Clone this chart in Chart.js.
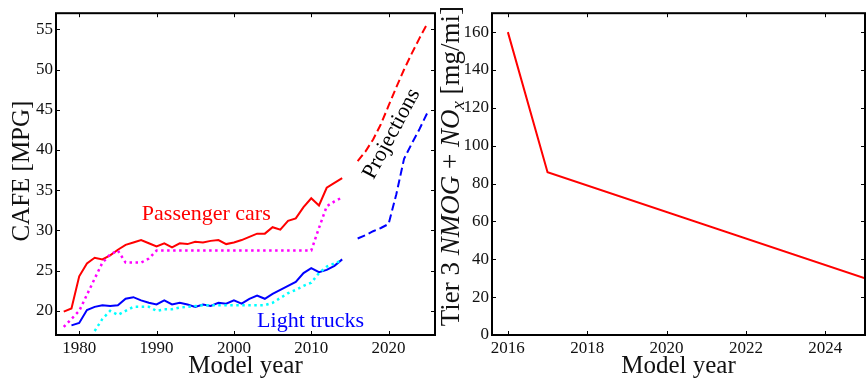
<!DOCTYPE html>
<html>
<head>
<meta charset="utf-8">
<script src="https://cdn.jsdelivr.net/npm/chart.js@4"></script>
<style>
  html, body { margin: 0; padding: 0; background: #fff; }
  #wrap { position: relative; width: 866px; height: 383px; }
  canvas { position: absolute; top: 0; }
  #left { left: 0; }
  #right { left: 440px; }
</style>
</head>
<body>
<div id="wrap">
  <canvas id="left" width="440" height="383"></canvas>
  <canvas id="right" width="426" height="383"></canvas>
</div>
<script>
// ── Data ──────────────────────────────────────────────────────────────
const carYears = [1978, 1979, 1980, 1981, 1982, 1983, 1984, 1985, 1986, 1987, 1988, 1989,
  1990, 1991, 1992, 1993, 1994, 1995, 1996, 1997, 1998, 1999, 2000, 2001, 2002, 2003,
  2004, 2005, 2006, 2007, 2008, 2009, 2010, 2011, 2012, 2013, 2014];
const carMpg = [19.9, 20.3, 24.3, 25.9, 26.6, 26.4, 26.9, 27.6, 28.2, 28.5, 28.8, 28.4,
  28.0, 28.4, 27.9, 28.4, 28.3, 28.6, 28.5, 28.7, 28.8, 28.3, 28.5, 28.8, 29.2, 29.6,
  29.6, 30.4, 30.1, 31.2, 31.5, 32.9, 34.0, 33.1, 35.3, 35.9, 36.5];
const carStd = [18.0, 19.0, 20.0, 22.0, 24.0, 26.0, 27.0, 27.5, 26.0, 26.0, 26.0, 26.5,
  27.5, 27.5, 27.5, 27.5, 27.5, 27.5, 27.5, 27.5, 27.5, 27.5, 27.5, 27.5, 27.5, 27.5,
  27.5, 27.5, 27.5, 27.5, 27.5, 27.5, 27.5, 30.3, 33.0, 33.6, 34.1];

const truckYears = [1979, 1980, 1981, 1982, 1983, 1984, 1985, 1986, 1987, 1988, 1989,
  1990, 1991, 1992, 1993, 1994, 1995, 1996, 1997, 1998, 1999, 2000, 2001, 2002, 2003,
  2004, 2005, 2006, 2007, 2008, 2009, 2010, 2011, 2012, 2013, 2014];
const truckMpg = [18.2, 18.5, 20.1, 20.5, 20.7, 20.6, 20.7, 21.5, 21.7, 21.3, 21.0,
  20.8, 21.3, 20.8, 21.0, 20.8, 20.5, 20.8, 20.6, 21.0, 20.9, 21.3, 20.9, 21.5, 21.9,
  21.5, 22.1, 22.6, 23.1, 23.6, 24.7, 25.3, 24.8, 25.1, 25.6, 26.4];

const truckStdYears = [1982, 1983, 1984, 1985, 1986, 1987, 1988, 1989, 1990, 1991, 1992,
  1993, 1994, 1995, 1996, 1997, 1998, 1999, 2000, 2001, 2002, 2003, 2004, 2005, 2006,
  2007, 2008, 2009, 2010, 2011, 2012, 2013, 2014];
const truckStd = [17.5, 19.0, 20.0, 19.5, 20.0, 20.5, 20.5, 20.5, 20.0, 20.2, 20.2,
  20.4, 20.5, 20.6, 20.7, 20.7, 20.7, 20.7, 20.7, 20.7, 20.7, 20.7, 20.7, 21.0, 21.6,
  22.2, 22.6, 23.1, 23.5, 24.7, 25.5, 25.9, 26.3];

const projYears = [2016, 2017, 2018, 2019, 2020, 2021, 2022, 2023, 2024, 2025];
const carProj = [38.6, 39.8, 41.3, 43.2, 45.5, 47.8, 50.0, 52.0, 53.9, 55.7];
const truckProj = [29.0, 29.4, 29.9, 30.3, 30.8, 34.5, 38.9, 40.8, 42.6, 44.6];

const tierYears = [2016, 2017, 2025];
const tierVals = [160, 86, 30];

const cafeXTicks = [1980, 1990, 2000, 2010, 2020];
const cafeYTicks = [20, 25, 30, 35, 40, 45, 50, 55];
const tierXTicks = [2016, 2018, 2020, 2022, 2024];
const tierYTicks = [0, 20, 40, 60, 80, 100, 120, 140, 160];

// ── Helpers ───────────────────────────────────────────────────────────
const SERIF = '"Liberation Serif", "Times New Roman", serif';
const TICK = 4;
Chart.defaults.font.family = SERIF;
const pts = (xs, ys) => xs.map((x, i) => ({ x, y: ys[i] }));

const line = (data, color, extra = {}) => Object.assign({
  data, borderColor: color, borderWidth: 2, pointRadius: 0, tension: 0, fill: false
}, extra);

const setTicks = list => scale => { scale.ticks = list.map(v => ({ value: v })); };

function axis(min, max, tickList, size, titleText) {
  return {
    type: 'linear', min, max,
    afterBuildTicks: setTicks(tickList),
    afterFit: s => { if (s.isHorizontal()) s.height = size; else s.width = size; },
    grid: { display: false, drawTicks: false },
    border: { display: false },
    ticks: {
      autoSkip: false, maxRotation: 0, padding: 3, color: '#111',
      font: { family: SERIF, size: 17 },
      callback: v => String(v)
    },
    title: {
      display: !!titleText, text: titleText, color: '#111', padding: { top: 0, bottom: 2 },
      font: { family: SERIF, size: 25 }
    }
  };
}

// box + inward ticks on all four sides
const framePlugin = {
  id: 'frame',
  afterDraw(chart) {
    const { ctx, chartArea: a, scales: { x, y } } = chart;
    ctx.save();
    ctx.strokeStyle = '#000';
    ctx.lineWidth = 1;
    ctx.beginPath();
    x.ticks.forEach(t => {
      const px = Math.round(x.getPixelForValue(t.value)) + 0.5;
      ctx.moveTo(px, a.bottom); ctx.lineTo(px, a.bottom - TICK);
      ctx.moveTo(px, a.top); ctx.lineTo(px, a.top + TICK);
    });
    y.ticks.forEach(t => {
      const py = Math.round(y.getPixelForValue(t.value)) + 0.5;
      ctx.moveTo(a.left, py); ctx.lineTo(a.left + TICK, py);
      ctx.moveTo(a.right, py); ctx.lineTo(a.right - TICK, py);
    });
    ctx.stroke();
    ctx.lineWidth = 2;
    ctx.strokeRect(a.left, a.top, a.right - a.left, a.bottom - a.top);
    ctx.restore();
  }
};

const notes = [
  { text: 'Passenger cars', x: 1988.1, y: 31.3, color: '#ff0000', rot: 0, align: 'left' },
  { text: 'Light trucks', x: 2003.0, y: 18.0, color: '#0000ff', rot: 0, align: 'left' },
  { text: 'Projections', x: 2020.4, y: 42.0, color: '#000000', rot: -62, align: 'center' }
];

const notesPlugin = {
  id: 'notes',
  afterDatasetsDraw(chart) {
    const { ctx, scales: { x, y } } = chart;
    ctx.save();
    ctx.font = `22px ${SERIF}`;
    notes.forEach(n => {
      ctx.save();
      ctx.translate(x.getPixelForValue(n.x), y.getPixelForValue(n.y));
      ctx.rotate(n.rot * Math.PI / 180);
      ctx.fillStyle = n.color;
      ctx.textAlign = n.align;
      ctx.textBaseline = n.align === 'center' ? 'middle' : 'alphabetic';
      ctx.fillText(n.text, 0, 0);
      ctx.restore();
    });
    ctx.restore();
  }
};

// rotated y titles made of roman / italic runs
const cafeTitle = [{ t: 'CAFE [MPG]', it: false }];
const tierTitle = [
  { t: 'Tier 3 ', it: false },
  { t: 'NMOG', it: true },
  { t: ' + ', it: false },
  { t: 'NO', it: true },
  { t: 'x', it: true, sub: true },
  { t: ' [mg/mi]', it: false }
];

const yTitlePlugin = (runs, size, dx, dy) => ({
  id: 'yTitle',
  afterDraw(chart) {
    const { ctx, chartArea: a } = chart;
    const fontOf = r => `${r.it ? 'italic ' : ''}${r.sub ? Math.round(size * 0.7) : size}px ${SERIF}`;
    ctx.save();
    let total = 0;
    const widths = runs.map(r => { ctx.font = fontOf(r); const w = ctx.measureText(r.t).width; total += w; return w; });
    ctx.translate(a.left - dx, (a.top + a.bottom) / 2 + dy);
    ctx.rotate(-Math.PI / 2);
    ctx.fillStyle = '#111';
    ctx.textBaseline = 'alphabetic';
    let cx = -total / 2;
    runs.forEach((r, i) => {
      ctx.font = fontOf(r);
      ctx.fillText(r.t, cx, r.sub ? 5 : 0);
      cx += widths[i];
    });
    ctx.restore();
  }
});

const common = {
  responsive: false,
  animation: false,
  devicePixelRatio: 1,
  plugins: { legend: { display: false }, tooltip: { enabled: false } }
};

// ── CAFE panel ────────────────────────────────────────────────────────
new Chart(document.getElementById('left'), {
  type: 'line',
  data: {
    datasets: [
      line(pts(carYears, carStd), '#ff00ff', { borderWidth: 2.5, borderDash: [2.5, 3.5] }),
      line(pts(truckStdYears, truckStd), '#00ffff', { borderWidth: 2.5, borderDash: [2.5, 3.5] }),
      line(pts(carYears, carMpg), '#ff0000'),
      line(pts(truckYears, truckMpg), '#0000ff'),
      line(pts(projYears, carProj), '#ff0000', { borderDash: [8, 4] }),
      line(pts(projYears, truckProj), '#0000ff', { borderDash: [8, 4] })
    ]
  },
  options: Object.assign({}, common, {
    layout: { padding: { top: 1, right: 5, bottom: 0, left: 0 } },
    scales: {
      x: axis(1977, 2026, cafeXTicks, 48, 'Model year'),
      y: axis(17, 57, cafeYTicks, 56, '')
    }
  }),
  plugins: [framePlugin, notesPlugin, yTitlePlugin(cafeTitle, 25, 27, -3)]
});

// ── Tier 3 panel ──────────────────────────────────────────────────────
new Chart(document.getElementById('right'), {
  type: 'line',
  data: {
    datasets: [line(pts(tierYears, tierVals), '#ff0000')]
  },
  options: Object.assign({}, common, {
    layout: { padding: { top: 1, right: 1, bottom: 0, left: 0 } },
    scales: {
      x: axis(2015.6, 2025, tierXTicks, 48, 'Model year'),
      y: axis(0, 170, tierYTicks, 52, '')
    }
  }),
  plugins: [framePlugin, yTitlePlugin(tierTitle, 27, 33, -8)]
});
</script>
</body>
</html>
